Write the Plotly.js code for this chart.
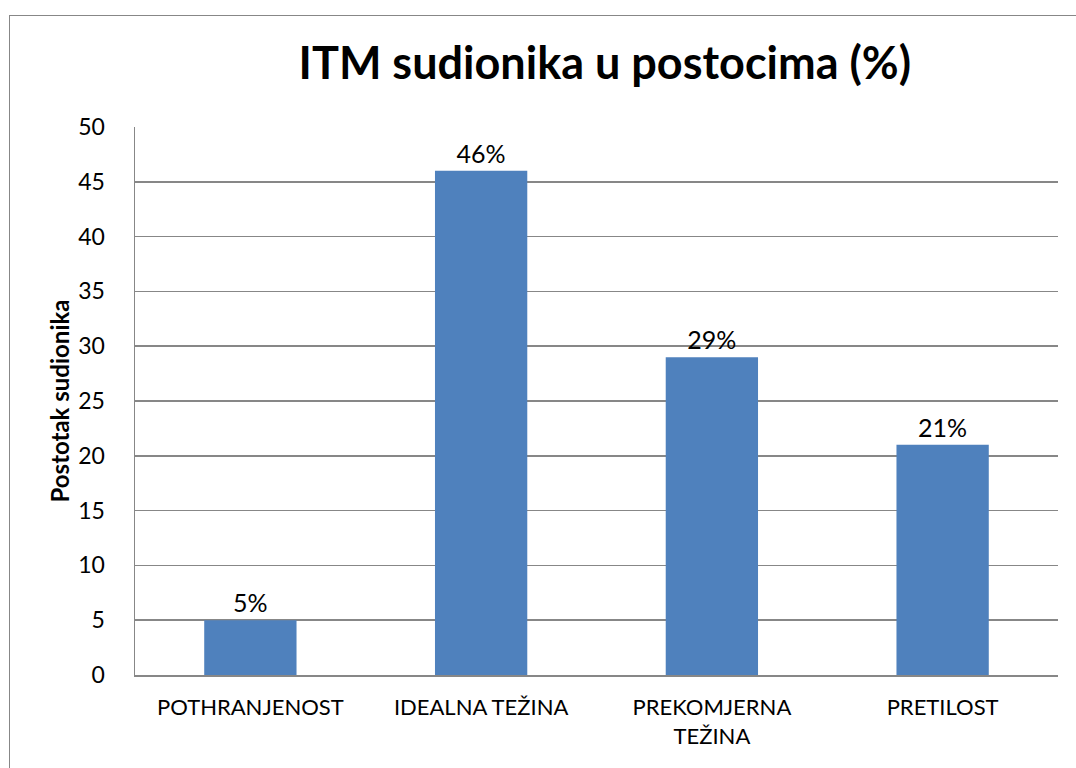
<!DOCTYPE html>
<html>
<head>
<meta charset="utf-8">
<script src="https://cdn.plot.ly/plotly-3.0.1.min.js"></script>
<style>
html,body{margin:0;padding:0;background:#fff;overflow:hidden;}
#chart{position:absolute;left:0;top:0;width:1076px;height:768px;}
#frame{position:absolute;left:9px;top:15px;width:1200px;height:900px;border:1.5px solid #878787;pointer-events:none;}
</style>
</head>
<body>
<div id="chart"></div>
<div id="frame"></div>
<script>
const categories = ['POTHRANJENOST', 'IDEALNA TEŽINA', 'PREKOMJERNA<br>TEŽINA', 'PRETILOST'];
const values = [5, 46, 29, 21];
const yTicks = [0, 5, 10, 15, 20, 25, 30, 35, 40, 45, 50];

const FONT = 'Lato, "Open Sans", sans-serif';

const trace = {
  type: 'bar',
  x: categories,
  y: values,
  marker: {color: '#4F81BD'},
  texttemplate: '%{y}%',
  textposition: 'outside',
  textfont: {family: FONT, size: 25, color: '#000'},
  cliponaxis: false,
  hoverinfo: 'none'
};

const layout = {
  width: 1076,
  height: 768,
  margin: {l: 135, r: 18, t: 127, b: 93},
  paper_bgcolor: 'rgba(0,0,0,0)',
  plot_bgcolor: '#fff',
  bargap: 0.6,
  showlegend: false,
  font: {family: FONT, color: '#000'},
  title: {
    text: '<b>ITM sudionika u postocima (%)</b>',
    font: {family: FONT, size: 45, color: '#000'},
    x: 0.509, xref: 'paper', xanchor: 'center',
    y: 72, yref: 'container', yanchor: 'middle'
  },
  xaxis: {
    type: 'category',
    showline: true, linecolor: '#878787', linewidth: 1.5,
    showgrid: false, ticks: '',
    tickfont: {family: FONT, size: 22, color: '#000'},
    ticklabelstandoff: 12,
    fixedrange: true
  },
  yaxis: {
    range: [0, 50],
    tickvals: yTicks,
    ticktext: yTicks.map(String),
    showline: true, linecolor: '#878787', linewidth: 1.5,
    showgrid: true, gridcolor: '#878787', gridwidth: 1.5,
    zeroline: false, ticks: '',
    tickfont: {family: FONT, size: 23, color: '#000'},
    ticklabelstandoff: 24,
    title: {
      text: '<b>Postotak sudionika</b>',
      font: {family: FONT, size: 24, color: '#000'},
      standoff: 2
    },
    fixedrange: true
  }
};

Plotly.newPlot('chart', [trace], layout, {displayModeBar: false, staticPlot: true});
</script>
</body>
</html>
